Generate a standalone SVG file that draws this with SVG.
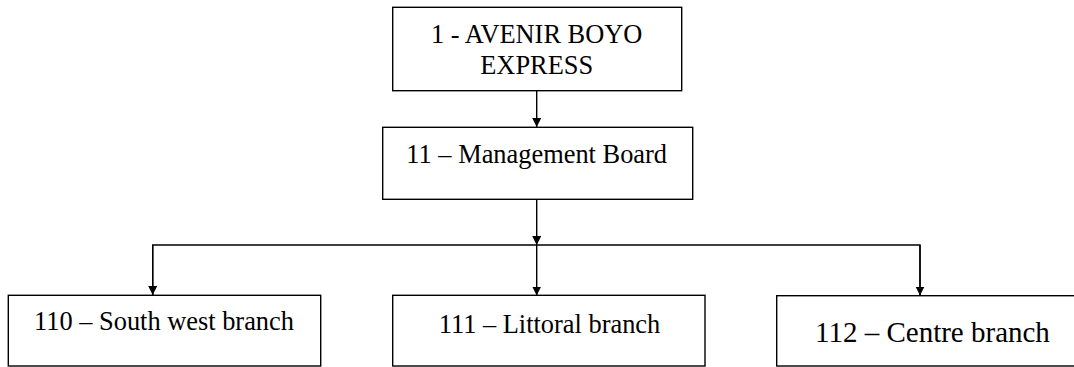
<svg xmlns="http://www.w3.org/2000/svg" width="1074" height="367" viewBox="0 0 1074 367">
<style>
.box{fill:#fff;stroke:#000;stroke-width:1.4}
.t{font-family:"Liberation Serif","Times New Roman",serif;font-size:26.4px;fill:#000}
.c{stroke:#000;stroke-width:1.4;fill:none}
</style>
<defs>
<marker id="ah" markerUnits="userSpaceOnUse" markerWidth="10" markerHeight="9" refX="9" refY="4.5" orient="auto">
<path d="M0,0 L9,4.5 L0,9 Z" fill="#000"/>
</marker>
</defs>
<rect width="1074" height="367" fill="#fff"/>
<g id="connectors">
<line class="c" x1="536.7" y1="91" x2="536.7" y2="127" marker-end="url(#ah)"/>
<line class="c" x1="536.7" y1="199.5" x2="536.7" y2="245" marker-end="url(#ah)"/>
<polyline class="c" points="152.7,295 152.7,245 920,245 920,295"/>
<line class="c" x1="152.7" y1="245" x2="152.7" y2="295" marker-end="url(#ah)"/>
<line class="c" x1="536.7" y1="245" x2="536.7" y2="295.5" marker-end="url(#ah)"/>
<line class="c" x1="920" y1="245" x2="920" y2="295.5" marker-end="url(#ah)"/>
</g>
<g id="n1">
<rect class="box" x="392.7" y="7.3" width="289" height="83.4"/>
<text class="t" x="536.7" y="43" text-anchor="middle">1 - AVENIR BOYO</text>
<text class="t" x="536.7" y="74" text-anchor="middle">EXPRESS</text>
</g>
<g id="n11">
<rect class="box" x="382.7" y="127.3" width="310" height="72"/>
<text class="t" x="536.7" y="162.7" text-anchor="middle">11 – Management Board</text>
</g>
<g id="n110">
<rect class="box" x="8.3" y="295.3" width="312.4" height="70.7"/>
<text class="t" x="164" y="330" text-anchor="middle">110 – South west branch</text>
</g>
<g id="n111">
<rect class="box" x="392.7" y="295.3" width="312.3" height="70.7"/>
<text class="t" x="549.5" y="333" text-anchor="middle">111 – Littoral branch</text>
</g>
<g id="n112">
<rect class="box" x="776.7" y="295.7" width="310" height="70.3"/>
<text class="t" x="815" y="341.7" style="font-size:29px">112 – Centre branch</text>
</g>
</svg>
